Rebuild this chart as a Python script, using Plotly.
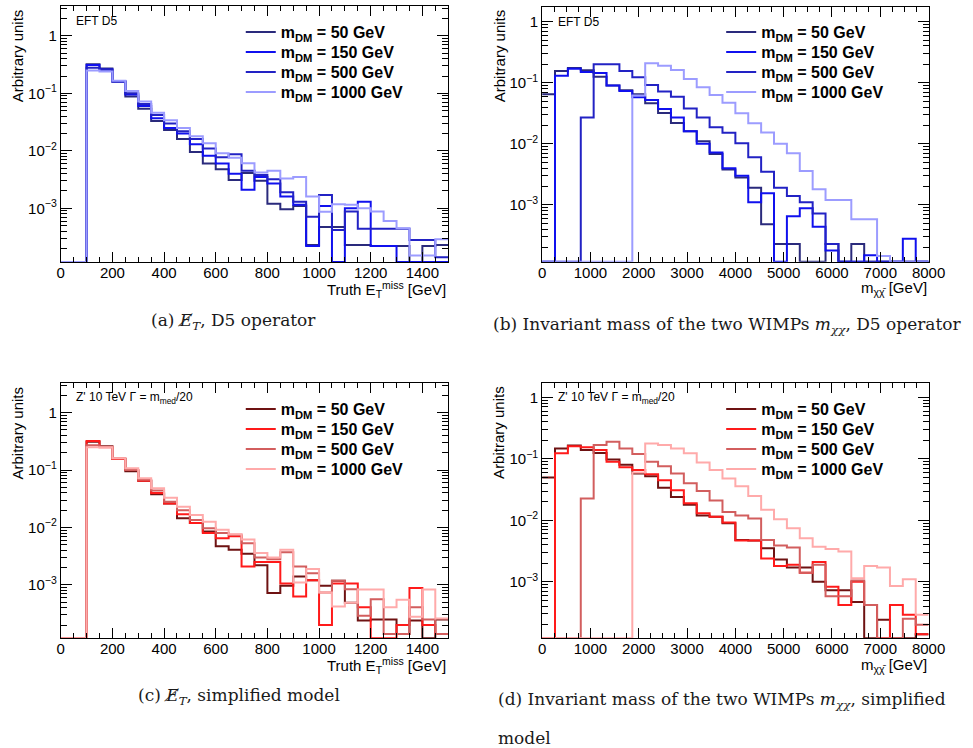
import plotly.graph_objects as go

W, H = 973, 748

# ---------------- data ----------------
met_edges = [i * 50 for i in range(31)]                 # 0..1500 GeV, 30 bins
mchi_edges = [i * 8000 / 30 for i in range(31)]         # 0..8000 GeV, 30 bins

labels = ["m<sub>DM</sub> = 50 GeV", "m<sub>DM</sub> = 150 GeV",
          "m<sub>DM</sub> = 500 GeV", "m<sub>DM</sub> = 1000 GeV"]

# (a) EFT D5, truth MET
a_m50 = [0, 0, 0.32, 0.27, 0.16, 0.088, 0.054, 0.033, 0.023, 0.016, 0.0095, 0.006, 0.0048, 0.0031,
         0.0041, 0.003, 0.0012, 0.00096, 0.0011, 0.00023, 0.00047, 0.00047, 0.00023, 0.00023,
         0.00022, 0.00022, 0.00022, 0, 0.00022, 0.00023]
a_m150 = [0, 0, 0.31, 0.26, 0.16, 0.095, 0.06, 0.037, 0.025, 0.02, 0.013, 0.0082, 0.006, 0.004,
          0.0021, 0.0035, 0.0027, 0.0016, 0.00115, 0.00022, 0.0011, 0, 0.001, 0.0013,
          0.00022, 0.00022, 0, 0, 0, 0]
a_m500 = [0, 0, 0.28, 0.26, 0.16, 0.10, 0.065, 0.042, 0.030, 0.022, 0.016, 0.011, 0.0077, 0.0087,
          0.0045, 0.0038, 0.0032, 0.0019, 0.0013, 0.00071, 0.0017, 0.00042, 0.00088, 0.00044,
          0.00044, 0.00044, 0.00044, 0.00028, 0.00028, 0.00014]
a_m1000 = [0, 0, 0.25, 0.24, 0.165, 0.11, 0.072, 0.046, 0.034, 0.025, 0.018, 0.0135, 0.0091, 0.0076,
           0.0061, 0.0042, 0.0045, 0.0033, 0.0035, 0.0016, 0.00087, 0.00117, 0.00115, 0.001,
           0.00088, 0.0006, 0.00045, 0.00015, 0.00015, 0.00029]

# (b) EFT D5, m_chichi
b_m50 = [0.065, 0.155, 0.175, 0.16, 0.125, 0.09, 0.075, 0.065, 0.046, 0.032, 0.022, 0.016, 0.011,
         0.0068, 0.0038, 0.0028, 0.0019, 0.00048, 0.00023, 0.00023, 0, 0, 0.00023, 0, 0.00023,
         0, 0, 0, 0, 0]
b_m150 = [0, 0.13, 0.17, 0.15, 0.145, 0.09, 0.073, 0.058, 0.052, 0.037, 0.027, 0.016, 0.010,
          0.0072, 0.004, 0.003, 0.0011, 0.00155, 0, 0.00065, 0.00088, 0.00044, 0.00018, 0, 0,
          0.00015, 0, 0, 0.00028, 0]
b_m500 = [0, 0, 0, 0.027, 0.2, 0.2, 0.156, 0.123, 0.092, 0.072, 0.059, 0.038, 0.027, 0.0186,
          0.0152, 0.0102, 0.006, 0.0035, 0.0019, 0.0014, 0.0011, 0.00072, 0.00023, 0, 0, 0, 0,
          0, 0, 0]
b_m1000 = [0, 0, 0, 0, 0, 0, 0, 0.062, 0.208, 0.19, 0.162, 0.115, 0.084, 0.063, 0.047, 0.0316,
           0.0217, 0.0153, 0.010, 0.007, 0.0036, 0.0018, 0.0012, 0.0012, 0.00058, 0.00058,
           0.000146, 0, 0, 0]

# (c) Z' simplified model, truth MET
c_m50 = [0, 0, 0.31, 0.26, 0.155, 0.095, 0.065, 0.038, 0.026, 0.0145, 0.012, 0.0085, 0.0047,
         0.0041, 0.0035, 0.0022, 0.00072, 0.00097, 0.0014, 0.0012, 0.00097, 0.00118, 0.00049,
         0.00024, 0.00025, 0.00025, 0.00014, 0.00024, 0, 0.00025]
c_m150 = [0, 0, 0.32, 0.25, 0.155, 0.10, 0.065, 0.040, 0.026, 0.017, 0.012, 0.008, 0.0065,
          0.007, 0.0021, 0.0025, 0.0025, 0.00106, 0.00063, 0.0012, 0.0002, 0.00106, 0.00106,
          0.00041, 0, 0, 0.0002, 0.00088, 0.0002, 0.00014]
c_m500 = [0, 0, 0.27, 0.255, 0.16, 0.10, 0.068, 0.044, 0.028, 0.020, 0.0135, 0.0097, 0.008,
          0.0075, 0.0053, 0.003, 0.0028, 0.0037, 0.0021, 0.0016, 0.00074, 0.00118, 0.00084,
          0.00029, 0.00056, 0.00014, 0.00014, 0.00041, 0.00025, 0.00014]
c_m1000 = [0, 0, 0.25, 0.25, 0.16, 0.107, 0.072, 0.048, 0.033, 0.023, 0.0165, 0.0126, 0.0091,
           0.0076, 0.0062, 0.0036, 0.003, 0.0041, 0.0011, 0.0019, 0.00074, 0.00042, 0.00049,
           0.00083, 0.00083, 0.00041, 0.00055, 0.00028, 0.00083, 0.00026]

# (d) Z' simplified model, m_chichi
d_m50 = [0.05, 0.148, 0.165, 0.14, 0.125, 0.098, 0.08, 0.058, 0.052, 0.034, 0.024, 0.018, 0.012,
         0.0114, 0.009, 0.0048, 0.0047, 0.0035, 0.0023, 0.0017, 0.0017, 0.001, 0.00073, 0.00073,
         0.00047, 0, 0.00024, 0, 0, 0.00014]
d_m150 = [0, 0.123, 0.16, 0.154, 0.14, 0.09, 0.073, 0.066, 0.056, 0.045, 0.031, 0.019, 0.013,
          0.0114, 0.0092, 0.0047, 0.0047, 0.0024, 0.0018, 0.0019, 0.0014, 0.0021, 0.00083,
          0.00042, 0.001, 0.00042, 0, 0.00042, 0.00029, 0.00014]
d_m500 = [0, 0, 0, 0.0227, 0.168, 0.19, 0.148, 0.12, 0.09, 0.076, 0.058, 0.04, 0.03, 0.021,
          0.0137, 0.012, 0.0107, 0.0048, 0.0039, 0.0036, 0.0014, 0.0019, 0.00058, 0.00058,
          0.00105, 0.00042, 0, 0, 0.00025, 0.0002]
d_m1000 = [0, 0, 0, 0, 0, 0, 0, 0.06, 0.178, 0.168, 0.148, 0.123, 0.087, 0.066, 0.048, 0.036,
           0.0248, 0.0148, 0.0104, 0.0074, 0.0051, 0.0037, 0.0034, 0.0031, 0.00114, 0.0018,
           0.0017, 0.00085, 0.0011, 0.00029]

blues = ["#2a2a7c", "#1010ee", "#2222c4", "#9c9cff"]
reds = ["#6e1212", "#ff1a1a", "#d25e5e", "#ffaaaa"]

# ---------------- layout geometry (pixels) ----------------
def px_x(x):
    return x / W


def px_y(y):
    return 1 - y / H


panels = [
    dict(edges=met_edges, series=[a_m50, a_m150, a_m500, a_m1000], colors=blues,
         box=(58, 454, 6, 262), yr=(-3.935, 0.52), xr=(0, 1500), dtick=200, mdtick=50,
         tag="EFT D5", xtitle="Truth E<sub>T</sub><sup>miss</sup> [GeV]", leg=(247, 32)),
    dict(edges=mchi_edges, series=[b_m50, b_m150, b_m500, b_m1000], colors=blues,
         box=(550, 945, 6.7, 261.7), yr=(-3.93, 0.245), xr=(0, 8000), dtick=1000, mdtick=250,
         tag="EFT D5", xtitle="m<sub>χχ̄</sub> [GeV]", leg=(738, 32)),
    dict(edges=met_edges, series=[c_m50, c_m150, c_m500, c_m1000], colors=reds,
         box=(58, 454, 383.3, 638.3), yr=(-3.93, 0.51), xr=(0, 1500), dtick=200, mdtick=50,
         tag="Z' 10 TeV Γ = m<sub>med</sub>/20", xtitle="Truth E<sub>T</sub><sup>miss</sup> [GeV]",
         leg=(247, 409)),
    dict(edges=mchi_edges, series=[d_m50, d_m150, d_m500, d_m1000], colors=reds,
         box=(550, 945, 383.3, 638.3), yr=(-3.92, 0.23), xr=(0, 8000), dtick=1000, mdtick=250,
         tag="Z' 10 TeV Γ = m<sub>med</sub>/20", xtitle="m<sub>χχ̄</sub> [GeV]", leg=(738, 409)),
]

SANS = "Liberation Sans"
SERIF = "DejaVu Serif"

fig = go.Figure()
layout = dict(
    width=W, height=H, autosize=False,
    margin=dict(l=0, r=0, t=0, b=0),
    paper_bgcolor="white", plot_bgcolor="white",
    showlegend=True,
)

minor_y = [k * 10 ** n for n in range(-4, 1) for k in range(2, 10)]
annotations = []
leg_count = 0

for i, p in enumerate(panels):
    n = i + 1
    xa = "x" if n == 1 else f"x{n}"
    ya = "y" if n == 1 else f"y{n}"
    floor = 10 ** p["yr"][0]
    lx, ly = p["leg"]
    for s, vals in enumerate(p["series"]):
        leg_count += 1
        lg = "legend" if leg_count == 1 else f"legend{leg_count}"
        yv = [v if v > 0 else floor for v in vals]
        fig.add_trace(go.Scatter(
            x=p["edges"], y=yv + [yv[-1]], mode="lines", line_shape="hv",
            line=dict(color=p["colors"][s], width=2), name="<b>" + labels[s] + "</b>",
            xaxis=xa, yaxis=ya, legend=lg, hoverinfo="skip"))
        layout[lg] = dict(
            x=px_x(lx - 5), y=px_y(ly + 20 * s), xanchor="left", yanchor="middle",
            bgcolor="rgba(0,0,0,0)", borderwidth=0,
            font=dict(family=SANS, size=16, color="black"))
    x0, x1, y0, y1 = p["box"]
    layout["xaxis" if n == 1 else f"xaxis{n}"] = dict(
        domain=[px_x(x0), px_x(x1)], range=list(p["xr"]), anchor=ya,
        showline=True, mirror="allticks", linecolor="black", linewidth=1,
        ticks="inside", ticklen=10, tickwidth=1, tickcolor="black",
        tick0=0, dtick=p["dtick"], showgrid=False, zeroline=False,
        minor=dict(ticks="inside", ticklen=5, dtick=p["mdtick"], tick0=0, tickcolor="black"),
        tickfont=dict(family=SANS, size=15, color="black"), tickformat="d",
        ticklabelstandoff=-3)
    layout["yaxis" if n == 1 else f"yaxis{n}"] = dict(
        domain=[px_y(y1), px_y(y0)], range=list(p["yr"]), type="log", anchor=xa,
        showline=True, mirror="allticks", linecolor="black", linewidth=1,
        ticks="inside", ticklen=11, tickwidth=1, tickcolor="black",
        tickvals=[1e-3, 1e-2, 1e-1, 1],
        ticktext=["10<sup>−3</sup>", "10<sup>−2</sup>", "10<sup>−1</sup>", "1"],
        minor=dict(ticks="inside", ticklen=6, tickvals=minor_y, tickcolor="black"),
        showgrid=False, zeroline=False,
        tickfont=dict(family=SANS, size=15, color="black"))
    # tag text
    annotations.append(dict(text=p["tag"], x=px_x(x0 + 14), y=px_y(y0 + 15), xref="paper",
                            yref="paper", xanchor="left", yanchor="middle", showarrow=False,
                            font=dict(family=SANS, size=12, color="black")))
    # x title
    annotations.append(dict(text=p["xtitle"], x=px_x(x1), y=px_y(y1 + 27), xref="paper",
                            yref="paper", xanchor="right", yanchor="middle", showarrow=False,
                            font=dict(family=SANS, size=15, color="black")))
    # y title
    annotations.append(dict(text="Arbitrary units", x=px_x(x0 - 44), y=px_y(y0 + 1),
                            xref="paper", yref="paper", xanchor="center", yanchor="top",
                            textangle=-90, showarrow=False,
                            font=dict(family=SANS, size=15, color="black")))

cap_font = dict(family=SERIF, size=17, color="#1a1a1a")
captions = [
    ("(a) <i>E̸</i><sub><i>T</i></sub>, D5 operator", 235, 322, "center"),
    ("(b) Invariant mass of the two WIMPs <i>m</i><sub><i>χχ</i></sub>, D5 operator", 498, 325, "left"),
    ("(c) <i>E̸</i><sub><i>T</i></sub>, simplified model", 240, 696, "center"),
    ("(d) Invariant mass of the two WIMPs <i>m</i><sub><i>χχ</i></sub>, simplified", 503, 700, "left"),
    ("model", 503, 738, "left"),
]
for txt, cx, cy, anc in captions:
    annotations.append(dict(text=txt, x=px_x(cx), y=px_y(cy), xref="paper", yref="paper",
                            xanchor=anc, yanchor="middle", showarrow=False, font=cap_font))

layout["annotations"] = annotations
fig.update_layout(**layout)
fig.write_html("out.html", config={"displayModeBar": False},
               post_script="document.body.style.margin='0px';")
